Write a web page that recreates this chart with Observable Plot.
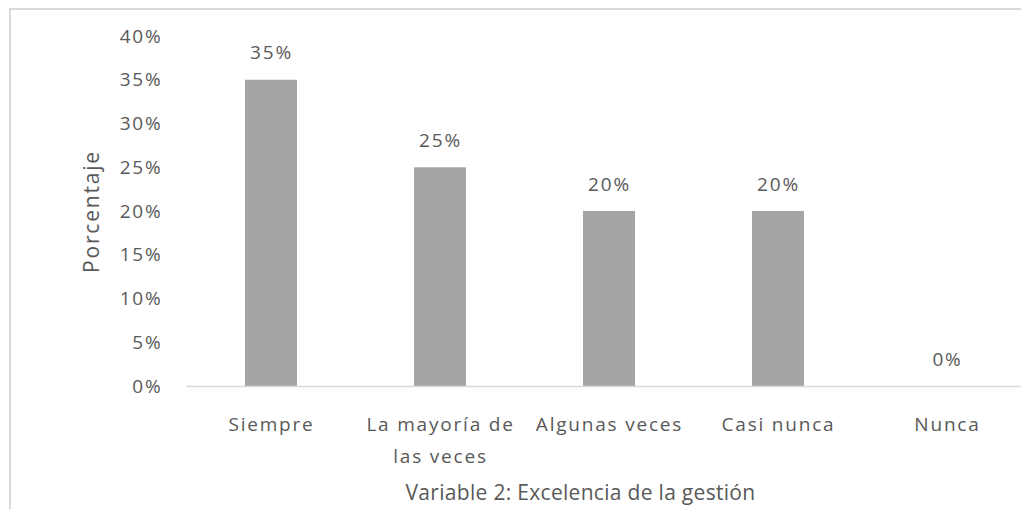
<!DOCTYPE html>
<html>
<head>
<meta charset="utf-8">
<script src="https://cdn.jsdelivr.net/npm/d3@7"></script>
<script src="https://cdn.jsdelivr.net/npm/@observablehq/plot@0.6"></script>
<style>
  html, body { margin: 0; padding: 0; background: #fff; overflow: hidden; }
  #wrap { position: relative; width: 1021px; height: 509px; overflow: hidden; }
  #frame { position: absolute; left: 9px; top: 8px; width: 1100px; height: 600px; border: 2px solid #d9d9d9; box-sizing: border-box; }
  #chart { position: absolute; left: 0; top: 0; width: 1032px; }
  #chart svg { max-width: none !important; width: 1032px; height: 509px; }
  #chart svg text { letter-spacing: 1.8px; }
</style>
</head>
<body>
<div id="wrap"><div id="frame"></div><div id="chart"></div></div>
<script>
const categories = ["Siempre", "La mayoría de\nlas veces", "Algunas veces", "Casi nunca", "Nunca"];
const values = [0.35, 0.25, 0.20, 0.20, 0.00];
const yTicks = [0, 0.05, 0.10, 0.15, 0.20, 0.25, 0.30, 0.35, 0.40];
const yLabel = "Porcentaje";
const xLabel = "Variable 2: Excelencia de la gestión";

const data = categories.map((c, i) => ({cat: c, v: values[i]}));
const fmt = d3.format(".0%");
const textColor = "#595959";
const font = "Open Sans";

const chart = Plot.plot({
  width: 1032,
  height: 509,
  marginTop: 36,
  marginBottom: 123,
  marginLeft: 186,
  marginRight: 0,
  style: {fontFamily: font, fontSize: "19px", color: textColor, background: "transparent"},
  x: {domain: categories, paddingInner: 0.69, paddingOuter: 0.345, label: null},
  y: {domain: [0, 0.40], ticks: yTicks, tickFormat: fmt, label: null},
  marks: [
    Plot.axisY({ticks: yTicks, tickFormat: fmt, tickSize: 0, tickPadding: 24, fontSize: 19, fill: textColor, label: null}),
    Plot.axisX({tickSize: 0, tickPadding: 22, fontSize: 19, fill: textColor, label: null, lineHeight: 1.68, textAnchor: "middle"}),
    Plot.barY(data, {x: "cat", y: "v", fill: "#a5a5a5"}),
    Plot.ruleY([0], {stroke: "#d9d9d9", strokeWidth: 1.5}),
    Plot.text(data, {x: "cat", y: "v", text: d => fmt(d.v), dy: -27, fill: textColor, fontSize: 19}),
    Plot.text([yLabel], {frameAnchor: "left", dx: -94, rotate: -90, fill: textColor, fontSize: 21, textAnchor: "middle"}),
    Plot.text([xLabel], {frameAnchor: "bottom", dx: -29, dy: 113, fill: textColor, fontSize: 21, textAnchor: "middle"})
  ]
});
document.getElementById("chart").appendChild(chart);
d3.select(chart).selectAll("text").filter(function() { return this.textContent === xLabel; }).style("letter-spacing", "0.3px");
</script>
</body>
</html>
